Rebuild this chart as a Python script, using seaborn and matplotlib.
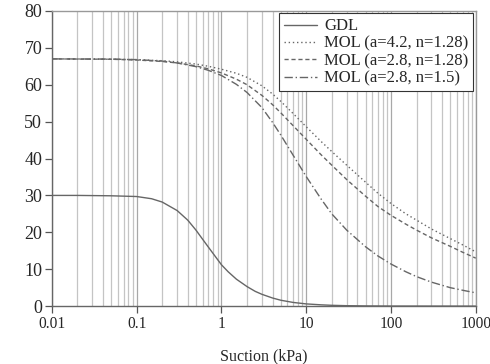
import matplotlib
matplotlib.use("Agg")
import matplotlib.pyplot as plt
import pandas as pd
import seaborn as sns

# suction values (kPa) and water content
gdl_x = [0.01, 0.02, 0.05, 0.1, 0.15, 0.2, 0.3, 0.4, 0.5, 0.6, 0.7, 0.8, 1,
         1.2, 1.5, 2, 2.5, 3, 4, 5, 7, 10, 15, 20, 30, 50, 100, 1000]
gdl_y = [30.0, 30.0, 29.9, 29.7, 29.1, 28.2, 25.9, 23.3, 20.6, 18.1, 16.0,
         14.2, 11.2, 9.3, 7.3, 5.3, 4.0, 3.2, 2.2, 1.6, 1.0, 0.6, 0.35, 0.22,
         0.12, 0.06, 0.02, 0.0]

mol_x = [0.01, 0.05, 0.1, 0.2, 0.3, 0.5, 0.7, 1, 1.5, 2, 3, 4, 5, 7, 10, 15,
         20, 30, 50, 70, 100, 150, 200, 300, 500, 700, 1000]
mol_42_128 = [67.0, 66.9, 66.8, 66.5, 66.2, 65.6, 65.0, 64.2, 63.1, 62.0,
              59.7, 57.5, 55.5, 52.2, 48.6, 44.6, 41.9, 38.2, 33.6, 30.6,
              27.8, 25.0, 23.3, 20.9, 18.3, 16.6, 14.7]
mol_28_128 = [67.0, 66.9, 66.7, 66.3, 65.9, 65.1, 64.3, 63.2, 61.5, 60.0,
              57.1, 54.6, 52.4, 48.9, 45.2, 41.0, 38.2, 34.3, 29.8, 27.0,
              24.6, 22.2, 20.6, 18.5, 16.2, 14.6, 13.0]
mol_28_15 = [67.0, 66.95, 66.8, 66.4, 65.9, 64.9, 63.9, 62.5, 60.1, 57.9,
             53.8, 49.8, 46.4, 40.9, 35.1, 29.0, 25.0, 20.6, 16.1, 13.6,
             11.4, 9.3, 8.0, 6.5, 5.0, 4.3, 3.6]

labels = ["GDL", "MOL (a=4.2, n=1.28)", "MOL (a=2.8, n=1.28)", "MOL (a=2.8, n=1.5)"]
xs = [gdl_x, mol_x, mol_x, mol_x]
ys = [gdl_y, mol_42_128, mol_28_128, mol_28_15]

sns.set_style("white")
plt.rcParams['font.family'] = ['Liberation Serif', 'DejaVu Serif']

data = pd.DataFrame({
    'Suction': [v for x in xs for v in x],
    'Value': [v for y in ys for v in y],
    'Curve': [lab for lab, y in zip(labels, ys) for _ in y],
})

figure = plt.figure(figsize=(4.9, 3.64), dpi=100)
axis = figure.add_axes([0.106, 0.159, 0.865, 0.811])

styles = ['-', (0, (1, 2)), (0, (3, 2)), (0, (6, 2, 1, 2))]
for lab, ls in zip(labels, styles):
    sns.lineplot(data=data[data['Curve'] == lab], x='Suction', y='Value',
                 color='#666666', linewidth=1.0, linestyle=ls, label=lab,
                 ax=axis)

axis.set_xscale('log')
axis.set_xlim(0.01, 1000)
axis.set_ylim(0, 80)
axis.set_yticks(range(0, 81, 10))
axis.set_xticks([0.01, 0.1, 1, 10, 100, 1000])
axis.set_xticklabels(['0.01', '0.1', '1', '10', '100', '1000'])
axis.xaxis.grid(True, which='minor', color='#c4c4c4', linewidth=0.9)
axis.xaxis.grid(True, which='major', color='#a8a8a8', linewidth=0.9)
axis.yaxis.grid(False)
axis.tick_params(axis='x', which='minor', length=0)
axis.tick_params(axis='both', which='major', length=5, width=0.9,
                 color='#555555', direction='out', pad=2)
axis.tick_params(axis='x', labelsize=11.2)
axis.tick_params(axis='y', labelsize=13)
axis.tick_params(left=True, bottom=True)
for side in ['left', 'bottom']:
    axis.spines[side].set_color('#666666')
    axis.spines[side].set_linewidth(1.0)
for side in ['top', 'right']:
    axis.spines[side].set_color('#999999')
    axis.spines[side].set_linewidth(1.0)

axis.set_xlabel('Suction (kPa)', fontsize=11.5, labelpad=12)
axis.set_ylabel('')
legend = axis.legend(loc='upper right', fontsize=12, handlelength=2.0,
                     borderaxespad=0.15, fancybox=False, framealpha=1,
                     edgecolor='#333333', borderpad=0.3, labelspacing=0.08,
                     handletextpad=0.4)
legend.get_frame().set_linewidth(0.8)

figure.savefig('out.png', dpi=100)
